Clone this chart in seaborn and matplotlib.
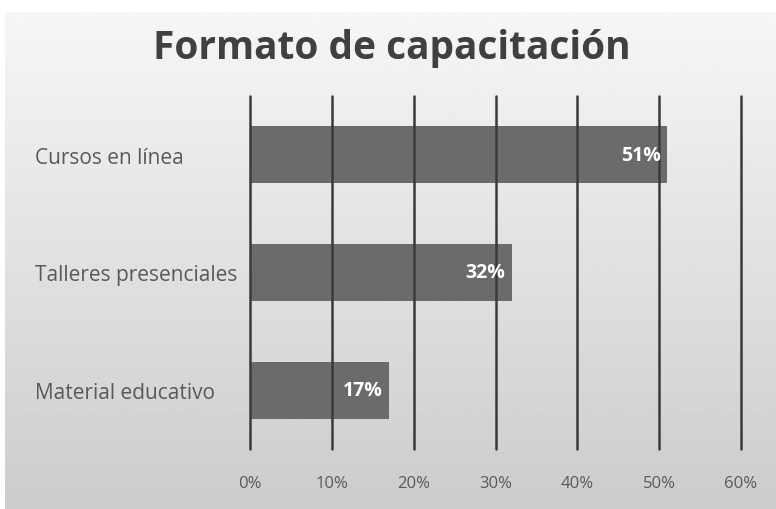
import numpy as np
import pandas as pd
import matplotlib
matplotlib.use("Agg")
import matplotlib.pyplot as plt
import seaborn as sns

categories = ["Cursos en línea", "Talleres presenciales", "Material educativo"]
values = [51, 32, 17]
xticks = [0, 10, 20, 30, 40, 50, 60]
xtick_labels = ["0%", "10%", "20%", "30%", "40%", "50%", "60%"]
title = "Formato de capacitación"

sns.set_theme(style="white")
plt.rcParams['font.family'] = ['Open Sans', 'DejaVu Sans']

W, H = 776, 510
fig = plt.figure(figsize=(W/100, H/100), dpi=100)
fig.patch.set_facecolor("white")

# gradient panel background
bg = fig.add_axes([5/W, 0, 1 - 5/W, 1 - 13/H], zorder=-10)
grad = np.linspace(0.965, 0.80, 256).reshape(-1, 1)
bg.imshow(grad, aspect="auto", cmap="gray", vmin=0, vmax=1, extent=[0, 1, 0, 1], origin="upper")
bg.set_axis_off()

ax = fig.add_axes([250/W, 1 - 450/H, (741 - 250)/W, (450 - 97)/H])
ax.patch.set_alpha(0)

df = pd.DataFrame({"cat": categories, "val": values})
sns.barplot(data=df, x="val", y="cat", color="#6b6b6b", saturation=1, width=0.485, ax=ax, zorder=1)
for p in ax.patches:
    p.set_edgecolor("none")

ax.set_xlim(0, 60)
ax.set_ylim(2.5, -0.5)
ax.set_xticks(xticks)
ax.set_xticklabels(xtick_labels)
ax.xaxis.grid(True, color="#3a3a3a", linewidth=1.8, zorder=3)
for gl in ax.get_xgridlines():
    gl.set_clip_on(False)
ax.set_axisbelow(False)
for s in ax.spines.values():
    s.set_visible(False)
ax.set_xlabel("")
ax.set_ylabel("")
ax.tick_params(axis="x", length=0, pad=19, labelsize=12, labelcolor="#595959")
ax.tick_params(axis="y", length=0, pad=155, labelsize=15, labelcolor="#595959")
for t in ax.get_yticklabels():
    t.set_horizontalalignment("left")

for i, v in enumerate(values):
    ax.text(v - 0.8, i, f"{v}%", ha="right", va="center", color="white",
            fontsize=14, fontweight="bold", zorder=5)

fig.text(392/W, 1 - 49/H, title, ha="center", va="center", fontsize=28,
         fontweight="bold", color="#404040")

fig.savefig("out.png", dpi=100)
